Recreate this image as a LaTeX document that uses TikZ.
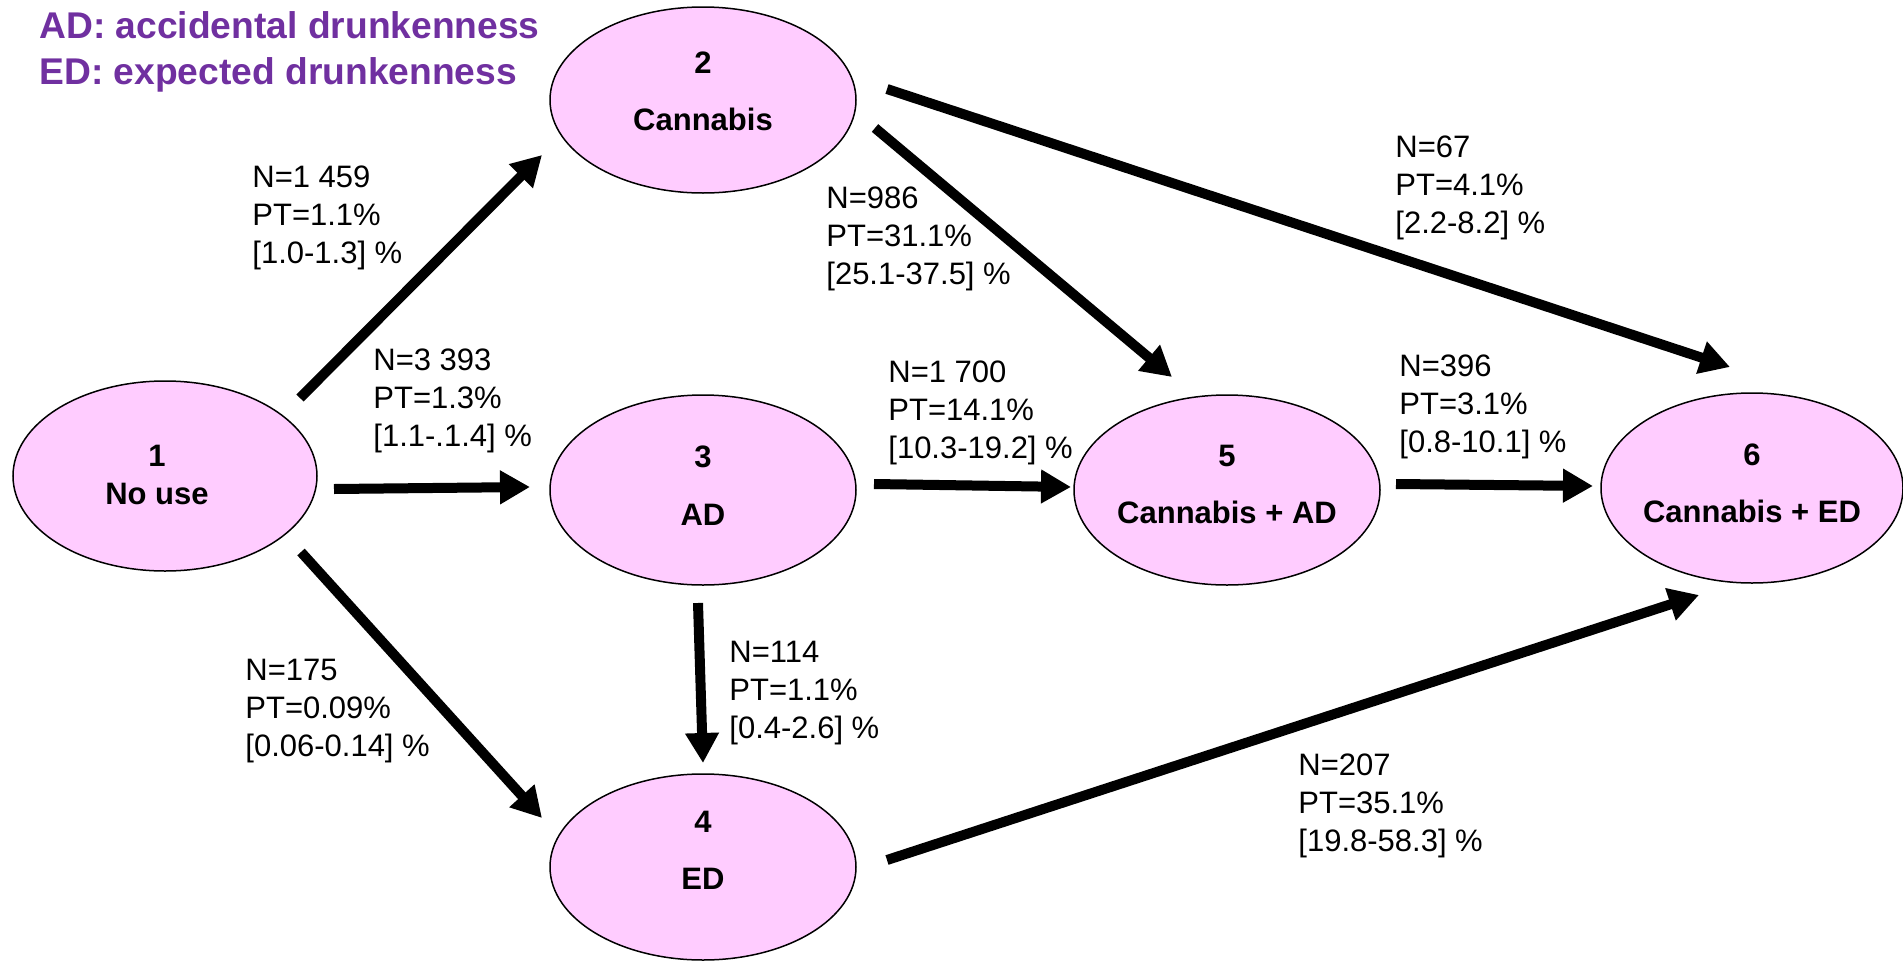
\documentclass[tikz,border=0pt]{standalone}
\usepackage{fontspec}
\setmainfont{Liberation Sans}
\usetikzlibrary{shapes.geometric,arrows.meta}
\definecolor{statefill}{HTML}{FFCCFF}
\definecolor{legendpurple}{HTML}{7030A0}
\begin{document}
\begin{tikzpicture}[x=0.5pt,y=-0.5pt,
  state/.style={ellipse,draw=black,line width=0.75pt,fill=statefill,
    inner sep=0pt,minimum width=153pt,minimum height=95pt},
  statetxt/.style={font=\bfseries\fontsize{15.5}{19}\selectfont,
    anchor=base,inner sep=0pt},
  flow/.style={line width=5pt,-{Triangle[length=15pt,width=16pt]}},
  rate/.style={font=\fontsize{15.5}{19}\selectfont,align=left,
    anchor=base west,inner sep=0pt},
  legendtxt/.style={font=\bfseries\fontsize{18.6}{23.5}\selectfont,
    text=legendpurple,anchor=base west,inner sep=0pt}]
\path[use as bounding box] (0,0) rectangle (1903,964);

% legend
\node[legendtxt] (lgad) at (39,38) {AD: accidental drunkenness};
\node[legendtxt] (lged) at (39,84) {ED: expected drunkenness};

% states
\node[state,minimum width=152pt] (e1) at (165,476) {};
\node[state,minimum height=93pt] (e2) at (703,100) {};
\node[state] (e3) at (703,490) {};
\node[state,minimum height=93pt] (e4) at (703,867) {};
\node[state] (e5) at (1227,490) {};
\node[state,minimum width=151pt] (e6) at (1752,488) {};

\node[statetxt] (n1) at ([shift={(-8,-10)}]e1.center) {1};
\node[statetxt] (t1) at ([shift={(-8,28)}]e1.center) {No use};
\node[statetxt] (n2) at ([shift={(0,-27)}]e2.center) {2};
\node[statetxt] (t2) at ([shift={(0,30)}]e2.center) {Cannabis};
\node[statetxt] (n3) at ([shift={(0,-23)}]e3.center) {3};
\node[statetxt] (t3) at ([shift={(0,35)}]e3.center) {AD};
\node[statetxt] (n4) at ([shift={(0,-35)}]e4.center) {4};
\node[statetxt] (t4) at ([shift={(0,22)}]e4.center) {ED};
\node[statetxt] (n5) at ([shift={(0,-24)}]e5.center) {5};
\node[statetxt] (t5) at ([shift={(0,33)}]e5.center) {Cannabis + AD};
\node[statetxt] (n6) at ([shift={(0,-23)}]e6.center) {6};
\node[statetxt] (t6) at ([shift={(0,34)}]e6.center) {Cannabis + ED};

% transitions
\draw[flow] ([shift={(135,-78)}]e1.center) -- ([shift={(-161,55)}]e2.center);
\draw[flow] ([shift={(169,13)}]e1.center) -- ([shift={(-173,-3)}]e3.center);
\draw[flow] ([shift={(136,76)}]e1.center) -- ([shift={(-161,-49)}]e4.center);
\draw[flow] ([shift={(-5,113)}]e3.center) -- ([shift={(0,-104)}]e4.center);
\draw[flow] ([shift={(172,28)}]e2.center) -- ([shift={(-55,-113)}]e5.center);
\draw[flow] ([shift={(184,-11)}]e2.center) -- ([shift={(-22,-121)}]e6.center);
\draw[flow] ([shift={(171,-6)}]e3.center) -- ([shift={(-156,-3)}]e5.center);
\draw[flow] ([shift={(169,-6)}]e5.center) -- ([shift={(-159,-2)}]e6.center);
\draw[flow] ([shift={(184,-7)}]e4.center) -- ([shift={(-53,107)}]e6.center);

% transition rates (anchored at the baseline of the last line)
\node[rate] (r12) at (252,263) {N=1 459\\PT=1.1\%\\{[1.0-1.3] \%}};
\node[rate] (r13) at (373,446) {N=3 393\\PT=1.3\%\\{[1.1-.1.4] \%}};
\node[rate] (r14) at (245,756) {N=175\\PT=0.09\%\\{[0.06-0.14] \%}};
\node[rate] (r34) at (729,738) {N=114\\PT=1.1\%\\{[0.4-2.6] \%}};
\node[rate] (r25) at (826,284) {N=986\\PT=31.1\%\\{[25.1-37.5] \%}};
\node[rate] (r35) at (888,458) {N=1 700\\PT=14.1\%\\{[10.3-19.2] \%}};
\node[rate] (r26) at (1395,233) {N=67\\PT=4.1\%\\{[2.2-8.2] \%}};
\node[rate] (r56) at (1399,452) {N=396\\PT=3.1\%\\{[0.8-10.1] \%}};
\node[rate] (r46) at (1298,851) {N=207\\PT=35.1\%\\{[19.8-58.3] \%}};
\end{tikzpicture}
\end{document}
